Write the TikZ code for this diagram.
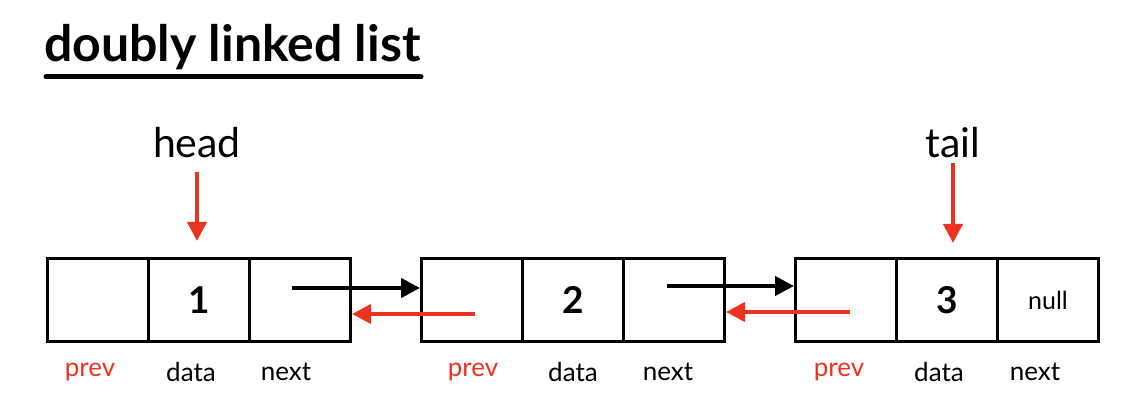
\documentclass[tikz,border=0pt]{standalone}
\usepackage{fontspec}
\setmainfont{Lato}
\usetikzlibrary{arrows.meta,calc}
\definecolor{ptrred}{RGB}{236,50,32}
\begin{document}
\begin{tikzpicture}[x=1pt,y=-1pt,
  cell/.style={draw=black,line width=3pt,minimum width=101pt,minimum height=83pt,inner sep=0pt,anchor=north west},
  val/.style={font=\fontsize{37}{40}\selectfont\bfseries},
  nul/.style={font=\fontsize{25}{28}\selectfont},
  lbl/.style={font=\fontsize{26}{30}\selectfont,inner sep=0pt},
  redlbl/.style={lbl,text=ptrred},
  ptrname/.style={font=\fontsize{41}{44}\selectfont,inner sep=0pt},
  nextarrow/.style={draw=black,line width=4pt,-{Triangle[length=19pt,width=19pt]}},
  prevarrow/.style={draw=ptrred,line width=4pt,-{Triangle[length=19pt,width=19pt]}},
  ptrarrow/.style={draw=ptrred,line width=4pt,-{Triangle[length=19pt,width=19pt]}},
  title/.style={font=\fontsize{50}{54}\selectfont\bfseries,inner sep=0pt,anchor=base west}]
\useasboundingbox (0,0) rectangle (1122,403);
% title
\node[title] (title) at (44,62) {doubly linked list};
\coordinate (ulA) at (46,77);
\coordinate (ulB) at (421,77);
\draw[line width=5pt,line cap=round] (ulA) -- (ulB);
% node 1
\node[cell] (p1) at (46,257) {};
\node[cell] (d1) at (147,257) {};
\node[cell] (n1) at (248,257) {};
% node 2
\node[cell] (p2) at (420,257) {};
\node[cell] (d2) at (521,257) {};
\node[cell] (n2) at (622,257) {};
% node 3
\node[cell] (p3) at (794,257) {};
\node[cell] (d3) at (895,257) {};
\node[cell] (n3) at (996,257) {};
% values
\node[val] (v1) at (d1.center) {1};
\node[val] (v2) at (d2.center) {2};
\node[val] (v3) at (d3.center) {3};
\node[nul] (vnull) at (n3.center) {null};
% labels
\node[redlbl] (lp1) at (90,372) {prev};
\node[lbl] (ld1) at (191,372) {data};
\node[lbl] (ln1) at (286,372) {next};
\node[redlbl] (lp2) at (473,372) {prev};
\node[lbl] (ld2) at (573,372) {data};
\node[lbl] (ln2) at (668,372) {next};
\node[redlbl] (lp3) at (839,372) {prev};
\node[lbl] (ld3) at (939,372) {data};
\node[lbl] (ln3) at (1035,372) {next};
% next arrows
\coordinate (s1) at (292,288);
\coordinate (s2) at (667,286);
\draw[nextarrow] (s1) -- (s1 -| p2.west);
\draw[nextarrow] (s2) -- (s2 -| p3.west);
% prev arrows
\coordinate (r2) at (475,314);
\coordinate (r3) at (850,312);
\draw[prevarrow] (r2) -- (r2 -| n1.east);
\draw[prevarrow] (r3) -- (r3 -| n2.east);
% head / tail
\node[ptrname] (head) at (197,143) {head};
\node[ptrname] (tail) at (953,143) {tail};
\coordinate (hs) at (197,172);
\coordinate (ts) at (953,163);
\draw[ptrarrow] (hs) -- (hs |- 0,241);
\draw[ptrarrow] (ts) -- (ts |- 0,243);
\end{tikzpicture}
\end{document}
